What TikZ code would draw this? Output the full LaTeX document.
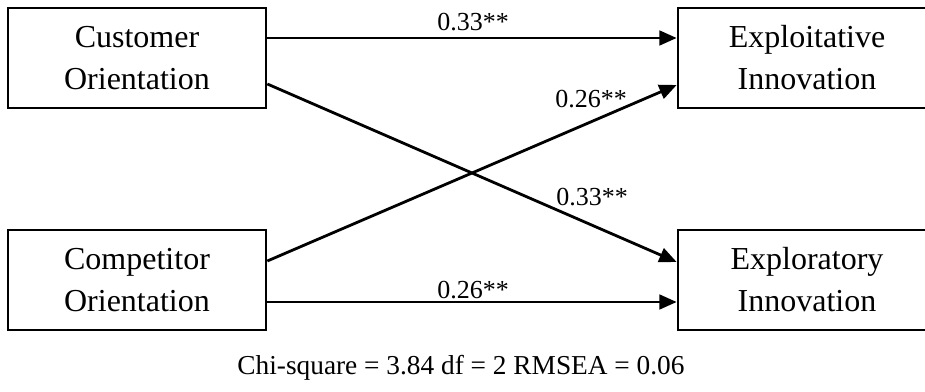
\documentclass[tikz,border=0pt]{standalone}
\usepackage{fontspec}
\setmainfont{Liberation Serif}
\usetikzlibrary{arrows.meta}
\begin{document}
\begin{tikzpicture}[x=0.75pt,y=-0.75pt,
  box/.style={draw,line width=2pt,minimum width=193.5pt,minimum height=75pt,align=center,inner sep=0pt,
    font=\fontsize{24}{31.5}\selectfont},
  conn/.style={line width=2.1pt,-{Triangle[length=13pt,width=11pt]}},
  lbl/.style={inner sep=0pt,font=\fontsize{19.5}{22}\selectfont}]
\clip (0,0) rectangle (925,392);
\fill[white] (0,0) rectangle (925,392);
\node[box] (co) at (137,58) {Customer\\Orientation};
\node[box] (cp) at (137,280) {Competitor\\Orientation};
\node[box] (ei) at (807,58) {Exploitative\\Innovation};
\node[box] (er) at (807,280) {Exploratory\\Innovation};
\draw[conn] ([yshift=15pt]co.east) -- ([yshift=15pt]ei.west);
\draw[conn] ([yshift=-19.5pt]co.east) -- ([yshift=13.5pt]er.west);
\draw[conn] ([yshift=14.25pt]cp.east) -- ([yshift=-20.25pt]ei.west);
\draw[conn] ([yshift=-16.5pt]cp.east) -- ([yshift=-16.5pt]er.west);
\node[lbl] (l1) at (473,22) {0.33**};
\node[lbl] (l2) at (591,99) {0.26**};
\node[lbl] (l3) at (592,197) {0.33**};
\node[lbl] (l4) at (473,290) {0.26**};
\node[lbl,font=\fontsize{20.5}{23}\selectfont] (fit) at (461,368) {Chi-square = 3.84 df = 2 RMSEA = 0.06};
\end{tikzpicture}
\end{document}
